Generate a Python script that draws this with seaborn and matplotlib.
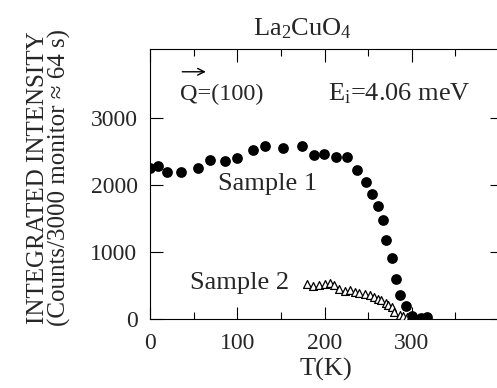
import matplotlib
matplotlib.use("Agg")
import matplotlib.pyplot as plt
import seaborn as sns
import pandas as pd

# Sample 1 (filled circles)
T1 = [0, 9.5, 19, 36, 55, 69, 86, 100, 118, 132, 153, 174, 188, 199, 213, 226,
      237, 248, 255, 261, 267, 271, 277, 282, 287, 293, 300, 311, 318]
I1 = [2250, 2290, 2200, 2200, 2260, 2380, 2360, 2410, 2520, 2580, 2550, 2580,
      2450, 2460, 2415, 2420, 2230, 2045, 1866, 1687, 1478, 1179, 912, 592,
      358, 190, 40, 15, 25]

# Sample 2 (open triangles)
T2 = [180, 187, 194, 201, 206, 211, 217, 223, 229, 235, 240, 246, 252, 257,
      261, 265, 270, 273, 277, 280, 286, 290, 294, 298, 302, 306, 310]
I2 = [520, 495, 505, 520, 540, 505, 445, 420, 430, 405, 395, 380, 355, 330,
      305, 285, 245, 210, 175, 110, 65, 40, 25, 15, 10, 5, 5]

xticks = [0, 100, 200, 300]
yticks = [0, 1000, 2000, 3000]

sns.set_style("ticks")
plt.rcParams["font.family"] = ["Liberation Serif", "DejaVu Serif"]
plt.rcParams["mathtext.fontset"] = "custom"
plt.rcParams["mathtext.rm"] = "Liberation Serif"
plt.rcParams["mathtext.it"] = "Liberation Serif:italic"

fig = plt.figure(figsize=(4.97, 3.88), dpi=100)
ax = fig.add_axes([150 / 497, 1 - 319 / 388, 352 / 497, 270 / 388])

d1 = pd.DataFrame({"T": T1, "I": I1})
d2 = pd.DataFrame({"T": T2, "I": I2})
sns.scatterplot(data=d2, x="T", y="I", ax=ax, marker="^", s=32,
                facecolor="white", edgecolor="black", linewidth=0.9, zorder=3)
sns.scatterplot(data=d1, x="T", y="I", ax=ax, marker="o", s=60,
                color="black", edgecolor="black", linewidth=0, zorder=4)

ax.set_xlim(0, 352 / 0.8725)
ax.set_ylim(0, 4030)
ax.set_xticks(xticks)
ax.set_yticks(yticks)
ax.set_xticks([50, 150, 250, 350], minor=True)
ax.tick_params(which="both", direction="in", top=True, right=True,
               labelsize=17, color="black")
ax.tick_params(which="major", length=9, width=0.8)
ax.tick_params(which="minor", length=5, width=0.8)
ax.tick_params(axis="x", pad=10)
ax.tick_params(axis="y", pad=9)
for s in ax.spines.values():
    s.set_linewidth(0.8)
    s.set_color("black")

ax.set_xlabel("T(K)", fontsize=19, labelpad=3)
ax.set_ylabel("INTEGRATED INTENSITY\n(Counts/3000 monitor \u2248 64 s)",
              fontsize=18, linespacing=0.95)
ax.yaxis.set_label_coords(-0.225, 0.525)

ax.text(175, 4239, r"La$_2$CuO$_4$", fontsize=19, ha="center",
        va="baseline", clip_on=False)
ax.text(34, 3269, "Q=(100)", fontsize=17.5, ha="left", va="baseline")
ax.annotate("", xy=(64, 3690), xytext=(37, 3690),
            arrowprops=dict(arrowstyle="->", color="black", lw=1.0,
                            shrinkA=0, shrinkB=0, mutation_scale=12))
ax.text(204, 3269, r"E$_\mathrm{i}$=4.06 meV", fontsize=19, ha="left",
        va="baseline")
ax.text(78, 1925, "Sample 1", fontsize=19, ha="left", va="baseline")
ax.text(46, 448, "Sample 2", fontsize=19, ha="left", va="baseline")

fig.savefig("out.png", dpi=100)
